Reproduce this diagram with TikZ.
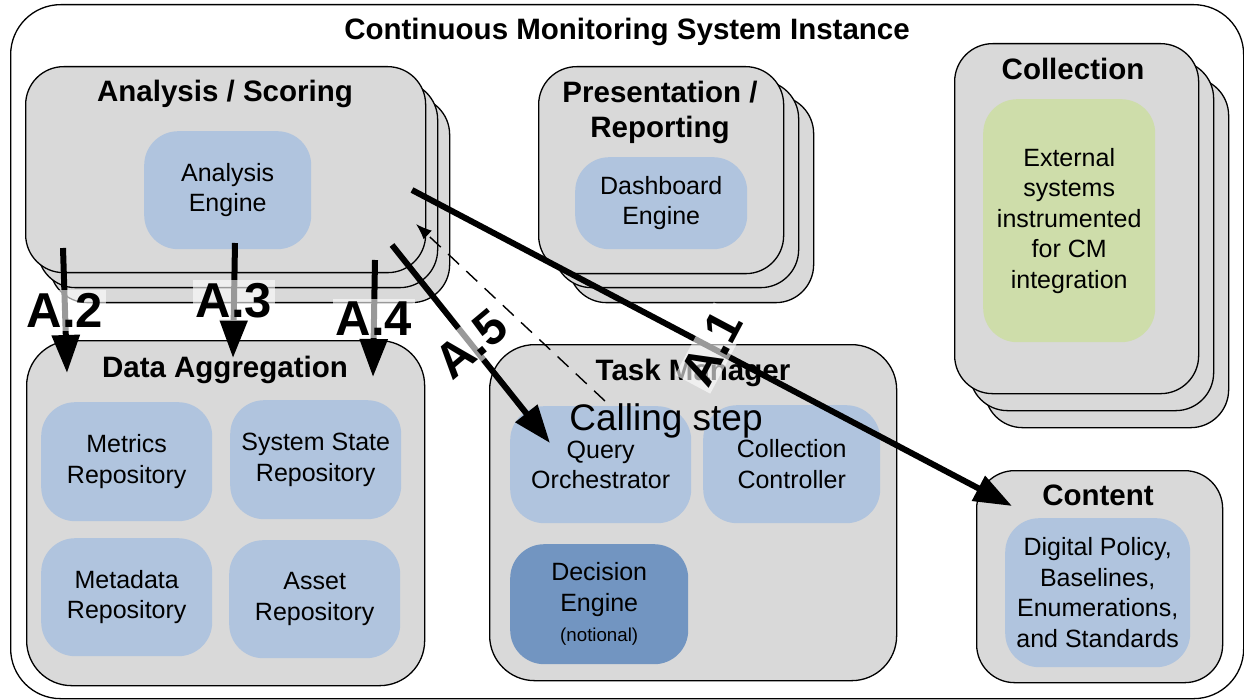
\documentclass[tikz,border=0pt]{standalone}
\usepackage{fontspec}
\setmainfont{Liberation Sans}
\usetikzlibrary{arrows.meta}
\definecolor{boxgray}{RGB}{217,217,217}
\definecolor{paleblue}{RGB}{176,196,222}
\definecolor{deepblue}{RGB}{114,149,193}
\definecolor{palegreen}{RGB}{206,221,170}
\tikzstyle{layer} = [rectangle, draw=black, fill=boxgray, line width=1.3pt, rounded corners=38pt, anchor=north west]
\tikzstyle{part} = [rectangle, fill=paleblue, rounded corners=34pt, anchor=north west, align=center, font=\fontsize{25}{30.5}\selectfont]
\tikzstyle{ttl} = [anchor=base, align=center, font=\fontsize{29.5}{35}\selectfont\bfseries]
\tikzstyle{flow} = [line width=6pt, -{Triangle[length=38pt,width=27pt]}]
\tikzstyle{call} = [line width=1.4pt, dash pattern=on 15pt off 10pt, -{Latex[length=16pt,width=12pt]}]
\tikzstyle{tag} = [fill=white, fill opacity=0.6, text opacity=1, inner sep=3pt, font=\fontsize{49}{49}\selectfont\bfseries]

\begin{document}
\begin{tikzpicture}[x=1pt, y=-1pt]
            \useasboundingbox (0,0) rectangle (1244,700);
            \node (CMS) [layer, fill=white, rounded corners=50pt, minimum width=1233pt, minimum height=694pt] at (10,4) {};
            \node (CMSt) [ttl] at (627,40) {Continuous Monitoring System Instance};

            \node (AS3) [layer, minimum width=400pt, minimum height=206pt] at (49,96) {};
            \node (AS2) [layer, minimum width=400pt, minimum height=206pt] at (37,81) {};
            \node (AS) [layer, minimum width=400pt, minimum height=206pt] at (25,66) {};
            \node (ASt) [ttl] at (225,102) {Analysis / Scoring};
            \node (AE) [part, minimum width=167pt, minimum height=118pt] at (144,131) {Analysis\\Engine};

            \node (PR3) [layer, minimum width=245pt, minimum height=207pt] at (568,95) {};
            \node (PR2) [layer, minimum width=245pt, minimum height=207pt] at (553,80) {};
            \node (PR) [layer, minimum width=245pt, minimum height=207pt] at (538,66) {};
            \node (PRt) [ttl, anchor=center] at (660,112) {Presentation /\\Reporting};
            \node (DE) [part, minimum width=172pt, minimum height=92pt] at (575,157) {Dashboard\\Engine};

            \node (CO3) [layer, minimum width=244pt, minimum height=350pt] at (984,77) {};
            \node (CO2) [layer, minimum width=244pt, minimum height=350pt] at (969,60) {};
            \node (CO) [layer, minimum width=244pt, minimum height=350pt] at (954,43) {};
            \node (COt) [ttl] at (1073,80) {Collection};
            \node (EXT) [part, fill=palegreen, minimum width=172pt, minimum height=243pt] at (983,99) {External\\systems\\instrumented\\for CM\\integration};

            \node (DA) [layer, rounded corners=45pt, minimum width=398pt, minimum height=345pt] at (26,340) {};
            \node (DAt) [ttl] at (225,377) {Data Aggregation};
            \node (MR) [part, minimum width=171pt, minimum height=119pt] at (41,402) {Metrics\\Repository};
            \node (SR) [part, minimum width=171pt, minimum height=119pt] at (230,400) {System State\\Repository};
            \node (MD) [part, minimum width=171pt, minimum height=118pt] at (41,538) {Metadata\\Repository};
            \node (AR) [part, minimum width=171pt, minimum height=118pt] at (229,540) {Asset\\Repository};

            \node (TM) [layer, rounded corners=45pt, minimum width=407pt, minimum height=336pt] at (489,344) {};
            \node (TMt) [ttl] at (693,380) {Task Manager};
            \node (QO) [part, minimum width=181pt, minimum height=117pt] at (510,406) {Query\\Orchestrator};
            \node (CC) [part, minimum width=177pt, minimum height=118pt] at (703,405) {Collection\\Controller};
            \node (DC) [part, fill=deepblue, minimum width=178pt, minimum height=120pt] at (510,544) {Decision\\Engine\\{\fontsize{18.7}{22}\selectfont(notional)}};

            \node (CT) [layer, minimum width=246pt, minimum height=212pt] at (976,470) {};
            \node (CTt) [ttl] at (1098,505) {Content};
            \node (DP) [part, minimum width=185pt, minimum height=149pt] at (1005,518) {Digital Policy,\\Baselines,\\Enumerations,\\and Standards};

            \coordinate (a1s) at (412,190);
            \coordinate (a1e) at (1012,506);
            \coordinate (a2s) at (63,248);
            \coordinate (a2e) at (67,373);
            \coordinate (a3s) at (235,243);
            \coordinate (a3e) at (233,358);
            \coordinate (a4s) at (375,260);
            \coordinate (a4e) at (373,377);
            \coordinate (a5s) at (392,245);
            \coordinate (a5e) at (550,443);
            \coordinate (cs) at (605,401);
            \coordinate (ce) at (416,224);

            \draw [call] (cs) -- (ce);
            \draw [flow] (a1s) -- node [tag, rotate=62] {A.1} (a1e);
            \draw [flow] (a2s) -- node [tag] {A.2} (a2e);
            \draw [flow] (a3s) -- node [tag] {A.3} (a3e);
            \draw [flow] (a4s) -- node [tag] {A.4} (a4e);
            \draw [flow] (a5s) -- node [tag, rotate=40] {A.5} (a5e);

            \node (CS) [anchor=base, font=\fontsize{37}{40}\selectfont] at (666,430) {Calling step};
        \end{tikzpicture}
\end{document}
